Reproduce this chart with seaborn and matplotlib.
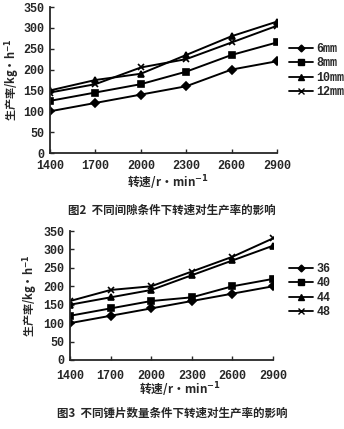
import matplotlib
matplotlib.use("Agg")
import matplotlib.pyplot as plt
from matplotlib.lines import Line2D
import seaborn as sns
import pandas as pd

speeds = [1400, 1700, 2000, 2300, 2600, 2900]

gap_labels = ["6mm", "8mm", "10mm", "12mm"]
gap_6 = [100, 120, 140, 160, 200, 220]
gap_8 = [125, 145, 165, 195, 235, 265]
gap_10 = [150, 175, 190, 235, 280, 315]
gap_12 = [145, 165, 205, 225, 265, 305]

hammer_labels = ["36", "40", "44", "48"]
ham_36 = [100, 120, 140, 160, 180, 200]
ham_40 = [120, 140, 160, 170, 200, 220]
ham_44 = [150, 170, 190, 230, 270, 310]
ham_48 = [160, 190, 200, 240, 280, 330]

yticks = [0, 50, 100, 150, 200, 250, 300, 350]

sns.set_style("ticks")
plt.rcParams['font.family'] = ['Liberation Mono', 'Noto Sans CJK SC', 'DejaVu Sans']
plt.rcParams['font.weight'] = 'bold'

fig = plt.figure(figsize=(3.44, 4.29), dpi=100)
ax1 = fig.add_axes([50/344, 1-153/429, 227/344, 146/429])
ax2 = fig.add_axes([70/344, 1-360/429, 203/344, 129/429])

markers = ["D", "s", "^", "x"]
msizes = [4, 4.5, 5, 4.5]
cjk = ['Noto Sans CJK SC', 'DejaVu Sans']

def draw(ax, labels, series, legend_xy, ylab_x, xlab_xy, cap_y, caption, xpad):
    for lab, vals, m, ms in zip(labels, series, markers, msizes):
        df = pd.DataFrame({"speed": speeds, "rate": vals})
        sns.lineplot(data=df, x="speed", y="rate", color="black", marker=m,
                     markersize=ms, linewidth=1.4, markeredgecolor="black",
                     markeredgewidth=1.2, ax=ax)
    ax.set_xlim(1400, 2900)
    ax.set_ylim(0, 350)
    ax.set_xticks(speeds)
    ax.set_yticks(yticks)
    ax.set_xticklabels([str(s) for s in speeds], fontsize=8.5, fontweight='bold')
    ax.set_yticklabels([str(t) for t in yticks], fontsize=8.5, fontweight='bold')
    ax.tick_params(axis='both', direction='in', length=3, width=1)
    ax.tick_params(axis='x', pad=xpad)
    ax.tick_params(axis='y', pad=4)
    for s in ["top", "right"]:
        ax.spines[s].set_visible(False)
    ax.spines["left"].set_linewidth(1.3)
    ax.spines["bottom"].set_linewidth(1.3)
    ax.set_xlabel("")
    ax.set_ylabel("")
    hs = [Line2D([], [], color="black", marker=m, markersize=ms - 0.5, linewidth=1.3)
          for m, ms in zip(markers, msizes)]
    fig.legend(hs, labels, loc="upper left", bbox_to_anchor=legend_xy,
               frameon=False, handlelength=2.0, handletextpad=0.3,
               labelspacing=0.2, prop={'family': ['Liberation Mono'], 'size': 8.5, 'weight': 'bold'},
               borderaxespad=0, borderpad=0)
    pos = ax.get_position()
    fig.text(ylab_x, pos.y0 + pos.height * 0.5,
             "生产率/kg·h$^{-1}$", rotation=90, ha="center", va="center",
             fontsize=8, family=cjk, fontweight='bold')
    fig.text(xlab_xy[0], xlab_xy[1],
             "转速/r·min$^{-1}$", ha="center", va="center", fontsize=8.5,
             family=cjk, fontweight='bold')
    fig.text(0.5, cap_y, caption, ha="center", va="center", fontsize=8.3,
             family=cjk, fontweight='bold')

draw(ax1, gap_labels, [gap_6, gap_8, gap_10, gap_12], (289/344, 1-43/429),
     12/344, (168/344, 1-183/429), 1-210/429, "图2  不同间隙条件下转速对生产率的影响", 5)
draw(ax2, hammer_labels, [ham_36, ham_40, ham_44, ham_48], (289/344, 1-263/429),
     30/344, (180/344, 1-390/429), 1-413/429, "图3  不同锤片数量条件下转速对生产率的影响", 7)

fig.savefig("out.png", dpi=100)
